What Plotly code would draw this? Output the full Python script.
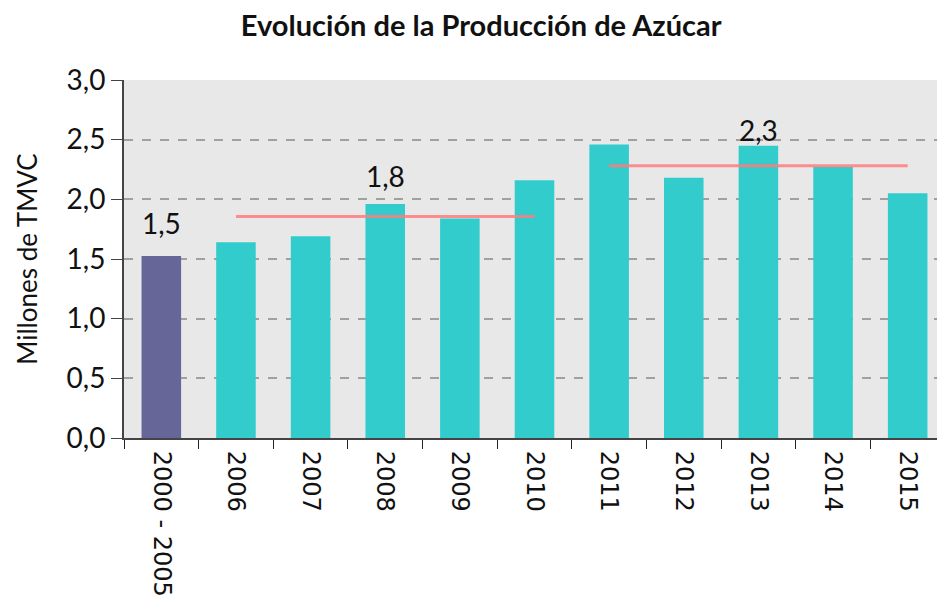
import plotly.graph_objects as go

categories = ["2000 - 2005", "2006", "2007", "2008", "2009", "2010",
              "2011", "2012", "2013", "2014", "2015"]
production = [1.525, 1.64, 1.69, 1.96, 1.84, 2.16, 2.46, 2.18, 2.45, 2.27, 2.05]

# period averages (red lines) and their labels
avg_periods = [("2006", "2010"), ("2011", "2015")]
avg_levels = [1.857, 2.282]
avg_labels = ["1,8", "2,3"]
avg_label_at = ["2008", "2013"]
base_label = "1,5"

bar_colors = ["#666699"] + ["#33CCCC"] * (len(categories) - 1)

fig = go.Figure()
fig.add_trace(go.Bar(x=categories, y=production, marker=dict(color=bar_colors, line=dict(width=0)),
                     showlegend=False, hoverinfo="x+y"))

for (a, b), lvl in zip(avg_periods, avg_levels):
    fig.add_trace(go.Scatter(x=[a, b], y=[lvl, lvl], mode="lines",
                             line=dict(color="rgba(255,125,125,0.85)", width=3),
                             showlegend=False, hoverinfo="skip"))

annots = [dict(x=0, y=production[0], text=base_label, yshift=33)]
i1 = categories.index(avg_label_at[0])
i2 = categories.index(avg_label_at[1])
annots.append(dict(x=i1, y=production[i1], text=avg_labels[0], yshift=28))
annots.append(dict(x=i2, y=production[i2], text=avg_labels[1], yshift=16))
for a in annots:
    a.update(showarrow=False, xref="x", yref="y",
             font=dict(family="Lato, sans-serif", size=28, color="#111111"))
fig.update_layout(annotations=annots)

fig.update_layout(
    width=937, height=591,
    margin=dict(l=116, r=0, t=72, b=161),
    paper_bgcolor="white",
    plot_bgcolor="#E8E8E8",
    separators=", ",
    bargap=0.47,
    title=dict(text="<b>Evolución de la Producción de Azúcar</b>",
               x=0.505, xanchor="center", y=0.97, yanchor="middle",
               font=dict(family="Lato, sans-serif", size=29, color="#111111")),
    xaxis=dict(type="category", range=[-0.5, 10.5], tickangle=90,
               tickson="boundaries", ticks="outside", ticklen=9, tickcolor="#222222",
               ticklabelstandoff=6,
               showline=True, linecolor="#444444", linewidth=2,
               showgrid=False, automargin=False,
               tickfont=dict(family="DejaVu Sans, sans-serif", size=24, color="#111111")),
    yaxis=dict(range=[0, 3.0], dtick=0.5, tickformat=".1f",
               ticks="outside", ticklen=11, tickcolor="#444444",
               showline=True, linecolor="#444444", linewidth=2,
               showgrid=True, gridcolor="#A0A0A0", griddash="dash", gridwidth=1.5,
               zeroline=False, automargin=False,
               tickfont=dict(family="Lato, sans-serif", size=28, color="#111111"),
               title=dict(text="Millones de TMVC", standoff=21,
                          font=dict(family="Lato, sans-serif", size=26, color="#111111"))),
)

fig.write_html("out.html")
